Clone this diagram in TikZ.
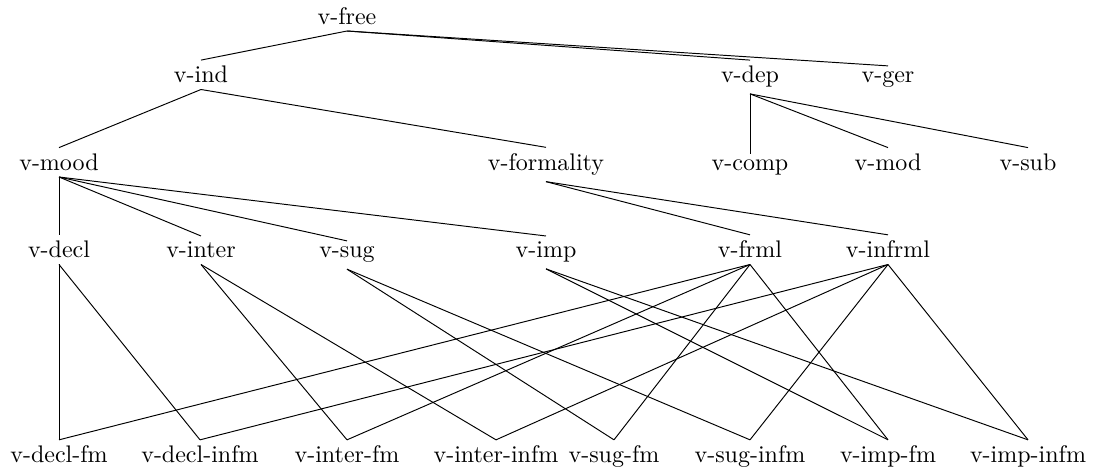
\documentclass[tikz,border=0pt]{standalone}
\begin{document}
\begin{tikzpicture}[x={(0.416667pt,0)}, y={(0,-0.416667pt)},
  lbl/.style={anchor=base, inner sep=2.4pt},
  branch/.style={line width=0.4pt}]
\useasboundingbox (0,0) rectangle (1099,470);
% level 1
\node[lbl] (free) at (347,24.5) {v-free};
% level 2
\node[lbl] (ind) at (201,83) {v-ind};
\node[lbl] (dep) at (750,83) {v-dep};
\node[lbl] (ger) at (888,83) {v-ger};
% level 3
\node[lbl] (mood) at (59,170.5) {v-mood};
\node[lbl] (formality) at (546,170.5) {v-formality};
\node[lbl] (comp) at (750,170.5) {v-comp};
\node[lbl] (mod) at (888,170.5) {v-mod};
\node[lbl] (sub) at (1028,170.5) {v-sub};
% level 4
\node[lbl] (decl) at (59,258) {v-decl};
\node[lbl] (inter) at (201,258) {v-inter};
\node[lbl] (sug) at (347,258) {v-sug};
\node[lbl] (imp) at (546,258) {v-imp};
\node[lbl] (frml) at (750,258) {v-frml};
\node[lbl] (infrml) at (888,258) {v-infrml};
% level 5
\node[lbl] (declfm) at (59,463) {v-decl-fm};
\node[lbl] (declinfm) at (200,463) {v-decl-infm};
\node[lbl] (interfm) at (347,463) {v-inter-fm};
\node[lbl] (interinfm) at (496,463) {v-inter-infm};
\node[lbl] (sugfm) at (614,463) {v-sug-fm};
\node[lbl] (suginfm) at (750,463) {v-sug-infm};
\node[lbl] (impfm) at (888,463) {v-imp-fm};
\node[lbl] (impinfm) at (1028,463) {v-imp-infm};
% branches
\foreach \p/\c in {free/ind, free/dep, free/ger,
  ind/mood, ind/formality,
  dep/comp, dep/mod, dep/sub,
  mood/decl, mood/inter, mood/sug, mood/imp,
  formality/frml, formality/infrml,
  decl/declfm, decl/declinfm,
  inter/interfm, inter/interinfm,
  sug/sugfm, sug/suginfm,
  imp/impfm, imp/impinfm,
  frml/declfm, frml/interfm, frml/sugfm, frml/impfm,
  infrml/declinfm, infrml/interinfm, infrml/suginfm, infrml/impinfm}
  \draw[branch] (\p.south) -- (\c.north);
\end{tikzpicture}
\end{document}
